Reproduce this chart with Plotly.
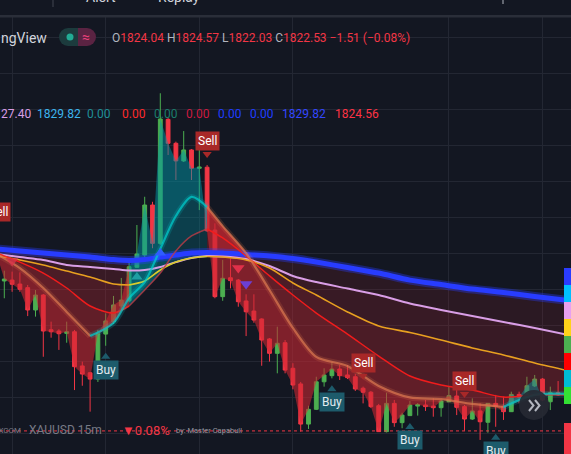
import plotly.graph_objects as go

W, H = 571, 454
TOP = 17
PH = H - TOP


def px(x):
    return x / W


def py(y):
    return (H - y) / PH


# ---------------- data ----------------
opens = [1830.86, 1830.91, 1830.69, 1830.49, 1829.25, 1830.08, 1828.15, 1828.08, 1827.95, 1828.04,
         1826.14, 1825.76, 1825.41, 1827.91, 1828.60, 1829.47, 1829.76, 1831.62, 1832.30, 1835.08,
         1832.95, 1839.84, 1838.51, 1837.53, 1838.14, 1837.12, 1837.18, 1833.69, 1829.99, 1831.04,
         1830.91, 1829.75, 1829.19, 1828.75, 1827.64, 1826.84, 1827.43, 1826.01, 1825.14, 1822.91,
         1823.73, 1825.26, 1825.60, 1825.97, 1825.64, 1825.54, 1824.90, 1824.68, 1823.93, 1822.49,
         1824.06, 1822.99, 1823.38, 1823.91, 1823.97, 1823.91, 1823.82, 1824.15, 1824.47, 1823.88,
         1823.19, 1823.64, 1823.01, 1824.06, 1823.91, 1823.60, 1824.56, 1824.40, 1825.03, 1825.41,
         1824.15, 1824.65]
highs = [1831.43, 1831.38, 1831.34, 1830.64, 1830.36, 1830.14, 1828.60, 1828.18, 1828.60, 1828.14,
         1826.38, 1825.80, 1828.14, 1829.06, 1830.03, 1831.03, 1832.03, 1833.97, 1835.54, 1835.26,
         1841.29, 1839.91, 1838.60, 1839.19, 1838.19, 1838.14, 1837.30, 1834.06, 1832.03, 1832.12,
         1830.97, 1830.12, 1830.12, 1828.79, 1827.69, 1828.32, 1827.58, 1826.29, 1825.25, 1823.93,
         1825.54, 1826.01, 1826.34, 1826.19, 1826.19, 1825.69, 1824.99, 1824.75, 1824.03, 1824.65,
         1824.25, 1823.54, 1824.19, 1824.08, 1824.25, 1824.34, 1824.25, 1824.99, 1824.80, 1823.97,
         1824.34, 1824.06, 1824.08, 1824.53, 1824.43, 1824.71, 1824.71, 1825.54, 1825.64, 1825.47,
         1824.99, 1825.30]
lows = [1829.90, 1830.26, 1830.26, 1828.91, 1828.88, 1826.65, 1827.71, 1827.03, 1827.43, 1824.80,
        1825.04, 1823.60, 1825.25, 1827.26, 1828.47, 1829.21, 1829.69, 1831.58, 1831.93, 1832.68,
        1832.86, 1837.86, 1836.47, 1837.47, 1836.47, 1834.80, 1833.58, 1829.90, 1829.76, 1830.45,
        1829.43, 1827.80, 1828.54, 1826.15, 1826.38, 1825.73, 1825.73, 1824.84, 1822.49, 1822.64,
        1823.69, 1824.99, 1825.45, 1825.36, 1825.41, 1824.75, 1824.06, 1823.80, 1822.47, 1822.45,
        1822.76, 1822.68, 1823.36, 1823.38, 1823.64, 1823.32, 1823.32, 1824.14, 1823.41, 1822.54,
        1823.14, 1822.03, 1822.43, 1822.76, 1823.14, 1823.58, 1824.06, 1824.36, 1824.97, 1824.19,
        1823.69, 1824.47]
closes = [1830.97, 1830.68, 1830.40, 1829.25, 1830.08, 1828.08, 1828.04, 1827.93, 1828.04, 1826.10,
          1825.69, 1825.41, 1827.95, 1828.64, 1829.53, 1829.80, 1831.65, 1832.36, 1835.08, 1832.95,
          1839.86, 1838.51, 1837.53, 1838.14, 1837.12, 1837.19, 1833.65, 1829.99, 1831.01, 1830.88,
          1829.71, 1829.15, 1828.69, 1827.58, 1826.84, 1827.40, 1825.91, 1825.08, 1822.91, 1823.73,
          1825.26, 1825.64, 1825.97, 1825.60, 1825.49, 1824.86, 1824.68, 1823.88, 1822.49, 1824.06,
          1822.99, 1823.41, 1823.97, 1824.00, 1823.88, 1823.82, 1824.19, 1824.49, 1823.84, 1823.19,
          1823.64, 1823.04, 1824.06, 1823.88, 1823.60, 1824.56, 1824.40, 1825.04, 1825.41, 1824.25,
          1824.65, 1824.53]
bar_index = list(range(len(closes)))

# moving-average lines, read at these bar positions
ma_knots = [-1, 2, 5, 8, 11, 14, 16, 18, 20, 22, 24, 26, 28, 31, 34, 37, 40, 44, 48, 52, 56, 60, 64, 68, 73]
ma_blue = [1832.64, 1832.53, 1832.41, 1832.30, 1832.19, 1832.05, 1832.00, 1832.05, 1832.19, 1832.30,
           1832.41, 1832.44, 1832.41, 1832.33, 1832.25, 1832.11, 1831.91, 1831.61, 1831.30, 1830.91,
           1830.66, 1830.41, 1830.22, 1830.00, 1829.75]
ma_pink = [1832.36, 1832.19, 1832.03, 1831.75, 1831.64, 1831.53, 1831.44, 1831.47, 1831.64, 1831.91,
           1832.14, 1832.25, 1832.22, 1832.08, 1831.69, 1831.14, 1830.80, 1830.44, 1830.08, 1829.61,
           1829.25, 1828.91, 1828.58, 1828.25, 1827.80]
ma_orange = [1832.25, 1832.03, 1831.75, 1831.41, 1831.08, 1830.69, 1830.64, 1830.86, 1831.47, 1831.91,
             1832.14, 1832.22, 1832.19, 1832.03, 1831.58, 1830.75, 1830.08, 1829.14, 1828.36, 1828.00,
             1827.58, 1827.14, 1826.75, 1826.30, 1825.80]
ma_red = [1832.41, 1831.91, 1831.30, 1830.47, 1829.47, 1829.08, 1829.47, 1830.36, 1831.30, 1832.53,
          1833.36, 1833.75, 1833.25, 1832.25, 1831.14, 1830.08, 1829.08, 1827.91, 1826.69, 1825.58,
          1825.08, 1824.80, 1824.41, 1824.53, 1824.53]
ma_fast = [1832.36, 1831.58, 1830.47, 1829.14, 1827.80, 1828.53, 1829.91, 1830.80, 1832.64, 1834.47,
           1835.53, 1834.97, 1833.91, 1832.41, 1830.36, 1828.25, 1826.64, 1826.14, 1825.03, 1824.39,
           1824.30, 1824.03, 1823.86, 1824.53, 1824.58]

# signals
buy_bars = [13, 42, 52, 63]
sell_bars = [26, 46, 59]
sell_prev_high = 1833.36          # signal bar just left of the view
tri_up_bars = [17, 20]
tri_up_vals = [1831.08, 1832.41]
tri_up_cols = ['#1f9ea3', '#2f5cff']
tri_dn_bars = [1, 30, 31]
tri_dn_vals = [1831.97, 1831.58, 1830.69]
tri_dn_cols = ['rgba(216,50,74,0.8)', '#e0304a', '#6b3fd4']

# header / legend texts
sym = 'XAUUSD 15m'
hdr = dict(O=1824.04, H=1824.57, L=1822.03, C=1822.53)
hdr_change, hdr_pct = -1.51, -0.08
last_price = 1822.53
legend_vals = ['27.40', '1829.82', '0.00', '0.00', '0.00', '0.00', '0.00', '0.00', '1829.82', '1824.56']
legend_cols = ['#d99ee6', '#3db5ef', '#1f8f98', '#ff2a2a', '#1b7d6c', '#cc1a40', '#1f3dff', '#1f3dff',
               '#3347ff', '#ff3344']
legend_x = [0, 36, 86, 121, 153, 185, 217, 249, 281, 334]
scale_cols = ['#2a3cff', '#00bfff', '#e8a0f0', '#ffd21a', '#4caf50', '#ff0000', '#00bcd4', '#33e033']

BG = '#131722'
FONT = 'Roboto'

fig = go.Figure()


def seg(xs, ys, lo, hi):
    pts = [(x, y) for x, y in zip(xs, ys) if lo <= x <= hi]
    return [p[0] for p in pts], [p[1] for p in pts]


def band(xa, ya, xb, yb, lo, hi, color, shape_b='spline'):
    x1, y1 = seg(xa, ya, lo, hi)
    x2, y2 = seg(xb, yb, lo, hi)
    fig.add_trace(go.Scatter(x=x1, y=y1, mode='lines', hoverinfo='skip',
                             line=dict(width=0, shape='spline', smoothing=0.8)))
    fig.add_trace(go.Scatter(x=x2, y=y2, mode='lines', hoverinfo='skip', fill='tonexty', fillcolor=color,
                             line=dict(width=0, shape=shape_b, smoothing=0.8)))


def line(xs, ys, lo, hi, color, width):
    x1, y1 = seg(xs, ys, lo, hi)
    fig.add_trace(go.Scatter(x=x1, y=y1, mode='lines', hoverinfo='skip',
                             line=dict(color=color, width=width, shape='spline', smoothing=0.8)))


RED = (205, 40, 50)
TEAL = (0, 150, 165)


def rgba(c, a):
    return 'rgba(%d,%d,%d,%.2f)' % (c[0], c[1], c[2], a)


series = [ma_blue, ma_pink, ma_orange, ma_red, ma_fast]
red_alpha = [0.13, 0.2, 0.3, 0.42]
teal_alpha = [0.12, 0.15, 0.22, 0.32]
for b in range(4):
    up, lo_ = series[b], series[b + 1]
    band(ma_knots, up, ma_knots, lo_, -1, 16, rgba(RED, red_alpha[b]))
    band(ma_knots, up, ma_knots, lo_, 16, 26, rgba(TEAL, teal_alpha[b]))
    band(ma_knots, up, ma_knots, lo_, 26, 73, rgba(RED, red_alpha[b]))
# fast line to price
band(ma_knots, ma_fast, bar_index, closes, -1, 16, rgba(RED, 0.58), 'linear')
band(ma_knots, ma_fast, bar_index, closes, 16, 26, rgba(TEAL, 0.5), 'linear')
band(ma_knots, ma_fast, bar_index, closes, 26, 64, rgba(RED, 0.58), 'linear')
band(ma_knots, ma_fast, bar_index, closes, 64, 73, rgba(TEAL, 0.45), 'linear')

# visible lines
line(ma_knots, ma_blue, -1, 73, 'rgba(40,60,255,0.35)', 9)
line(ma_knots, ma_blue, -1, 73, '#283cff', 5)
line(ma_knots, ma_pink, -1, 73, '#d99ee6', 2)
line(ma_knots, ma_orange, -1, 16, '#e8a020', 1.6)
line(ma_knots, ma_orange, 16, 26, '#d8cc2a', 1.6)
line(ma_knots, ma_orange, 26, 73, '#e8a020', 1.6)
line(ma_knots, ma_red, -1, 16, '#f01c1c', 1.5)
line(ma_knots, ma_red, 16, 26, 'rgba(190,60,70,0.8)', 1.5)
line(ma_knots, ma_red, 26, 73, '#f01c1c', 1.5)
SAL = (220, 120, 80)
CY = (0, 205, 205)
for lo, hi, c in [(-1, 11, SAL), (11, 26, CY), (26, 64, SAL), (64, 73, CY)]:
    line(ma_knots, ma_fast, lo, hi, rgba(c, 0.18), 6)
    line(ma_knots, ma_fast, lo, hi, rgba(c, 0.72), 2.2)

# candles
fig.add_trace(go.Candlestick(
    x=bar_index, open=opens, high=highs, low=lows, close=closes,
    increasing=dict(line=dict(color='#4caf50', width=1), fillcolor='#4caf50'),
    decreasing=dict(line=dict(color='#f23645', width=1), fillcolor='#f23645'),
    whiskerwidth=0, hoverinfo='skip'))

# signal triangles
fig.add_trace(go.Scatter(x=tri_up_bars, y=tri_up_vals, mode='markers', hoverinfo='skip',
                         marker=dict(symbol='triangle-up', size=10, color=tri_up_cols)))
fig.add_trace(go.Scatter(x=tri_dn_bars, y=tri_dn_vals, mode='markers', hoverinfo='skip',
                         marker=dict(symbol='triangle-down', size=11, color=tri_dn_cols)))

SELL_BG = '#a82828'
BUY_BG = '#1d5b6b'
PXPRICE = 1 / 18.0  # price per pixel on this scale
# notches of the signal labels
fig.add_trace(go.Scatter(x=sell_bars, y=[highs[i] + 11 * PXPRICE for i in sell_bars], mode='markers',
                         hoverinfo='skip', marker=dict(symbol='triangle-down', size=8, color=SELL_BG)))
fig.add_trace(go.Scatter(x=buy_bars, y=[lows[i] - 11 * PXPRICE for i in buy_bars], mode='markers',
                         hoverinfo='skip', marker=dict(symbol='triangle-up', size=8, color=BUY_BG)))

ann = []
for i in sell_bars:
    ann.append(dict(x=i, y=highs[i], xref='x', yref='y', text='Sell', showarrow=False, yanchor='bottom',
                    yshift=14, bgcolor=SELL_BG, borderpad=2, font=dict(family=FONT, size=12, color='#ffffff')))
ann.append(dict(x=px(10.5), y=sell_prev_high, xref='paper', yref='y', text='Sell', showarrow=False,
                xanchor='right', yanchor='bottom', yshift=14, bgcolor=SELL_BG, borderpad=2,
                font=dict(family=FONT, size=12, color='#ffffff')))
for i in buy_bars:
    ann.append(dict(x=i, y=lows[i], xref='x', yref='y', text='Buy', showarrow=False, yanchor='top',
                    yshift=-14, bgcolor=BUY_BG, borderpad=2, font=dict(family=FONT, size=12, color='#e2ecf0')))

# header row 1
ann.append(dict(x=px(-1), y=py(38), xref='paper', yref='paper', text='ngView', showarrow=False,
                xanchor='left', yanchor='middle', font=dict(family=FONT, size=14, color='#d1d4dc')))
R = '#f23645'
ohlc = ''.join('%s<span style="color:%s">%.2f</span> ' % (k, R, v) for k, v in hdr.items())
ohlc += '<span style="color:%s">\u2212%.2f (\u2212%.2f%%)</span>' % (R, abs(hdr_change), abs(hdr_pct))
ann.append(dict(x=px(110), y=py(38), xref='paper', yref='paper', text=ohlc, showarrow=False,
                xanchor='left', yanchor='middle', font=dict(family=FONT, size=12, color='#b2b5be')))
ann.append(dict(x=px(86), y=py(37), xref='paper', yref='paper', text='\u2248', showarrow=False,
                xanchor='center', yanchor='middle', font=dict(family=FONT, size=14, color='#e8407a')))
# header row 2 (indicator values)
for v, c, x in zip(legend_vals, legend_cols, legend_x):
    ann.append(dict(x=px(x - 1), y=py(114), xref='paper', yref='paper', text=v, showarrow=False,
                    xanchor='left', yanchor='middle', font=dict(family=FONT, size=12, color=c)))
# toolbar fragments (mostly scrolled out of view)
for t, x in [('Alert', 84), ('Replay', 156)]:
    ann.append(dict(x=px(x), y=py(7), xref='paper', yref='paper', text=t, showarrow=False,
                    xanchor='left', yanchor='bottom', font=dict(family=FONT, size=14, color='#d1d4dc')))
# bottom row
ann.append(dict(x=px(23), y=py(430), xref='paper', yref='paper', text='FOREXCOM', showarrow=False,
                xanchor='right', yanchor='middle', font=dict(family=FONT, size=8, color='#787b86')))
ann.append(dict(x=px(27), y=py(430), xref='paper', yref='paper', text=sym, showarrow=False,
                xanchor='left', yanchor='middle', font=dict(family=FONT, size=12, color='#787b86')))
ann.append(dict(x=px(120), y=py(430), xref='paper', yref='paper', text='\u25bc%.2f%%' % abs(hdr_pct),
                showarrow=False, xanchor='left', yanchor='middle', font=dict(family=FONT, size=13, color=R)))
ann.append(dict(x=px(174), y=py(430), xref='paper', yref='paper', text='by: Master Capabull', showarrow=False,
                xanchor='left', yanchor='middle', font=dict(family=FONT, size=7.5, color='#9598a1')))

shapes = []


def prect(x0, y0, x1, y1, color, kind='rect', layer='above'):
    shapes.append(dict(type=kind, xref='paper', yref='paper', x0=px(x0), x1=px(x1), y0=py(y1), y1=py(y0),
                       fillcolor=color, line=dict(width=0), layer=layer))


# toolbar separator band and marks
prect(0, 15, W, 17.5, '#2a2e39')
prect(52.5, 0, 53.5, 7, '#434651')
prect(502.5, 0, 503.5, 4, '#b2b5be')
# pill toggle
prect(59, 28, 77, 46, '#1c3b3d', 'circle')
prect(68, 28, 78, 46, '#1c3b3d')
prect(78, 28, 96, 46, '#5a2342', 'circle')
prect(78, 28, 87, 46, '#5a2342')
prect(66.5, 33.5, 73.5, 40.5, '#22ab94', 'circle')
# last price dotted line
shapes.append(dict(type='line', xref='paper', yref='y', x0=0, x1=1, y0=last_price, y1=last_price,
                   line=dict(color=R, width=1, dash='dot'), layer='above'))
# price scale colour labels
for k, c in enumerate(scale_cols):
    prect(564, 268 + 17 * k, 571, 268 + 17 * (k + 1), c)
prect(564, 423, 571, 454, R)
# scroll button
prect(519, 390, 549, 420, 'rgba(38,41,51,0.92)', 'circle')
for dx in (0, 6):
    x0 = 529 + dx
    shapes.append(dict(type='path', xref='paper', yref='paper',
                       path='M %f %f L %f %f L %f %f' % (px(x0), py(400), px(x0 + 4.5), py(405.5),
                                                         px(x0), py(411)),
                       line=dict(color='#b2b5be', width=2), layer='above'))

GRID = '#232733'
fig.update_layout(
    width=W, height=H, margin=dict(l=0, r=0, t=TOP, b=0),
    paper_bgcolor=BG, plot_bgcolor=BG, showlegend=False,
    annotations=ann, shapes=shapes,
    xaxis=dict(range=[-0.551, 72.654], showgrid=True, gridcolor=GRID, gridwidth=1,
               tickmode='array', tickvals=[1, 13, 25, 37, 57, 69], showticklabels=False,
               zeroline=False, rangeslider=dict(visible=False), fixedrange=True),
    yaxis=dict(range=[1821.248, 1845.526], showgrid=True, gridcolor=GRID, gridwidth=1,
               tick0=1822.41, dtick=2, showticklabels=False, zeroline=False, fixedrange=True),
)
fig.write_html('out.html', config=dict(displayModeBar=False),
               post_script="document.body.style.margin='0px';document.body.style.background='#131722';")
